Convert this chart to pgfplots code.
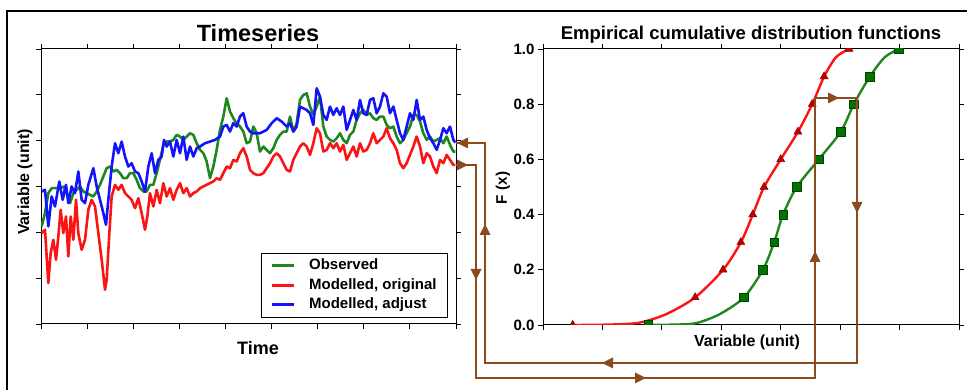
\documentclass[border=0pt]{standalone}
\usepackage{pgfplots}
\pgfplotsset{compat=1.18}
\usepackage{fontspec}
\setmainfont{Liberation Sans}
\definecolor{obsgreen}{RGB}{30,135,30}
\definecolor{modred}{RGB}{250,20,20}
\definecolor{adjblue}{RGB}{20,20,250}
\definecolor{arrbrown}{RGB}{140,75,30}
\newcommand\arrhead[3]{\fill[arrbrown,shift={(#1,#2)},rotate=#3] (6,0)--(-5,5.5)--(-5,-5.5)--cycle;}
\begin{document}
\begin{tikzpicture}[x=1pt,y=1pt]
\pgfplotsset{every axis/.append style={scale only axis, axis line style={line width=1pt}, tick style={line width=0.8pt,black}, major tick length=5pt, tick align=outside, tick pos=both}}
% ---------------- Timeseries ----------------
\begin{axis}[at={(41pt,66pt)}, anchor=south west, width=415pt, height=275pt,
  xmin=123, xmax=1368, ymin=147, ymax=973, y dir=reverse,
  xtick={123,261.33,399.67,538,676.33,814.67,953,1091.33,1229.67,1368},
  ytick={147,284.67,422.33,560,697.67,835.33,973},
  xticklabels={}, yticklabels={},
  legend cell align=left,
  legend image code/.code={\draw[#1,line width=2.6pt] (0pt,0pt) -- (22pt,0pt);},
  legend style={at={(0.981,0.258)}, anchor=north east, draw=black, line width=1pt,
    font=\fontsize{15}{17}\selectfont\bfseries, row sep=1pt, column sep=12pt, inner xsep=9pt, inner ysep=3pt,
    nodes={text height=11pt, text depth=3.5pt, inner sep=2pt}},
  every axis plot/.append style={line width=2.6pt, line join=round}]
\addplot[obsgreen, no marks] coordinates {(125,680)(135,640)(145,580)(155,565)(170,565)(180,565)(190,560)(200,580)(210,610)(220,580)(230,570)(240,560)(250,575)(260,580)(270,585)(280,590)(290,575)(300,555)(310,530)(320,505)(330,500)(340,515)(350,510)(360,520)(370,535)(380,535)(390,520)(400,520)(410,540)(420,565)(430,575)(440,575)(450,555)(460,555)(470,520)(480,480)(490,435)(500,425)(510,425)(520,420)(530,405)(540,410)(550,420)(560,410)(570,400)(580,405)(590,430)(600,450)(610,460)(620,485)(630,535)(640,500)(650,450)(660,390)(670,350)(680,295)(690,335)(700,355)(710,370)(720,380)(730,395)(740,430)(750,425)(760,380)(770,400)(780,455)(790,440)(800,450)(810,460)(820,445)(830,420)(840,405)(850,395)(860,395)(870,350)(880,395)(890,370)(900,300)(910,285)(920,280)(925,300)(930,320)(940,345)(950,320)(960,290)(970,380)(980,410)(990,420)(1000,425)(1010,415)(1020,400)(1030,420)(1040,430)(1050,405)(1060,395)(1070,360)(1080,340)(1090,330)(1100,345)(1110,340)(1120,355)(1130,360)(1140,350)(1150,350)(1160,375)(1170,385)(1180,380)(1190,410)(1200,430)(1210,420)(1220,400)(1230,380)(1240,345)(1250,345)(1260,365)(1270,400)(1280,420)(1290,410)(1300,425)(1310,420)(1320,415)(1330,430)(1340,410)(1350,435)(1360,455)(1366,455)};
\addlegendentry{Observed}
\addplot[modred, no marks] coordinates {(125,700)(135,690)(145,850)(152,760)(160,720)(168,780)(175,710)(182,630)(190,700)(198,650)(205,770)(212,650)(220,720)(228,600)(235,700)(245,750)(255,720)(265,630)(275,600)(285,620)(295,700)(305,780)(315,870)(320,840)(328,700)(335,590)(345,555)(355,570)(365,555)(375,580)(385,590)(395,600)(405,625)(415,595)(425,640)(435,690)(442,650)(450,580)(460,620)(470,570)(480,610)(490,550)(500,590)(510,565)(520,600)(530,570)(540,550)(550,580)(560,565)(570,590)(580,580)(590,575)(600,565)(610,560)(620,555)(630,550)(640,545)(650,535)(660,540)(670,520)(680,500)(690,505)(700,480)(710,485)(720,460)(730,445)(740,470)(750,510)(760,520)(770,525)(780,525)(790,520)(800,505)(810,490)(820,470)(830,460)(840,470)(850,490)(860,510)(870,515)(880,480)(890,460)(900,440)(910,430)(920,440)(930,465)(940,430)(950,385)(960,400)(970,455)(980,450)(990,430)(1000,445)(1010,430)(1020,455)(1030,435)(1040,480)(1050,460)(1060,440)(1070,470)(1080,430)(1090,455)(1100,450)(1110,430)(1120,400)(1130,430)(1140,420)(1150,410)(1160,385)(1170,415)(1180,430)(1190,450)(1200,490)(1210,505)(1220,490)(1230,465)(1240,440)(1250,410)(1260,440)(1270,490)(1280,460)(1290,470)(1300,500)(1310,520)(1320,480)(1330,490)(1340,465)(1350,480)(1360,495)(1366,495)};
\addlegendentry{Modelled, original}
\addplot[adjblue, no marks] coordinates {(125,575)(135,570)(145,680)(155,590)(165,620)(178,545)(188,600)(198,555)(205,610)(215,560)(225,580)(235,515)(245,600)(255,610)(265,555)(280,505)(290,560)(300,600)(310,640)(318,675)(325,600)(335,500)(345,430)(355,460)(365,425)(375,470)(385,500)(395,490)(405,515)(415,520)(425,545)(435,575)(445,500)(455,460)(465,520)(475,480)(485,470)(492,420)(500,440)(510,425)(520,470)(530,420)(540,460)(550,410)(560,480)(570,440)(580,470)(590,445)(600,440)(615,430)(630,425)(645,420)(660,410)(670,380)(680,375)(690,395)(700,370)(710,380)(720,350)(730,340)(740,380)(750,395)(760,400)(780,400)(800,390)(815,370)(830,355)(845,365)(860,380)(870,370)(880,395)(890,380)(900,320)(910,325)(920,330)(930,340)(940,375)(950,265)(960,290)(970,345)(980,360)(990,320)(1000,345)(1010,325)(1020,345)(1030,320)(1040,390)(1050,360)(1060,330)(1070,360)(1080,300)(1090,340)(1100,345)(1110,300)(1120,295)(1130,340)(1140,320)(1150,280)(1160,290)(1170,340)(1180,320)(1190,360)(1200,400)(1210,420)(1220,380)(1230,340)(1240,360)(1250,300)(1260,360)(1270,350)(1280,390)(1290,415)(1300,430)(1310,450)(1320,420)(1330,385)(1340,400)(1350,380)(1360,420)(1366,428)};
\addlegendentry{Modelled, adjust}
\end{axis}
% ---------------- ECDF ----------------
\begin{axis}[at={(543pt,65pt)}, anchor=south west, width=416pt, height=276pt,
  xmin=0, xmax=7, ymin=0, ymax=1,
  xtick={0,1,2,3,4,5,6,7}, xticklabels={},
  ytick={0,0.2,0.4,0.6,0.8,1}, yticklabel pos=left,
  yticklabel={\pgfmathprintnumber[fixed,fixed zerofill,precision=1,assume math mode=true]{\tick}},
  yticklabel style={font=\bfseries\fontsize{15}{18}\selectfont},
  clip marker paths=true]
\addplot[modred, line width=2.4pt, smooth, no marks] coordinates {(0.5,0)(1.0,0.001)(1.5,0.005)(1.75,0.015)(2.1,0.042)(2.56,0.1)(3.03,0.2)(3.33,0.3)(3.53,0.4)(3.72,0.5)(4.0,0.6)(4.29,0.7)(4.53,0.8)(4.73,0.9)(4.93,0.97)(5.15,1.0)};
\addplot[obsgreen, line width=2.4pt, smooth, no marks] coordinates {(1.77,0)(2.3,0.002)(2.6,0.008)(2.98,0.04)(3.38,0.1)(3.70,0.2)(3.89,0.3)(4.04,0.4)(4.27,0.5)(4.64,0.6)(5.01,0.7)(5.23,0.8)(5.50,0.9)(5.75,0.97)(5.99,1.0)};
\addplot[only marks, mark=triangle*, mark size=4.6pt, mark options={fill=red!75!black, draw=red!55!black, line width=0.5pt}] coordinates {(0.5,0)(2.56,0.1)(3.03,0.2)(3.33,0.3)(3.53,0.4)(3.72,0.5)(4.0,0.6)(4.29,0.7)(4.53,0.8)(4.73,0.9)(5.15,1.0)};
\addplot[only marks, mark=square*, mark size=4.3pt, mark options={fill=green!45!black, draw=green!25!black, line width=0.5pt}] coordinates {(1.77,0)(3.38,0.1)(3.70,0.2)(3.89,0.3)(4.04,0.4)(4.27,0.5)(4.64,0.6)(5.01,0.7)(5.23,0.8)(5.50,0.9)(5.99,1.0)};
\end{axis}
% ---------------- texts ----------------
\node[font=\bfseries\fontsize{23.5}{28}\selectfont] at (258,357) {Timeseries};
\node[font=\bfseries\fontsize{18.5}{22}\selectfont] at (751,355) {Empirical cumulative distribution functions};
\node[font=\bfseries\fontsize{18}{21}\selectfont] at (258,42) {Time};
\node[font=\bfseries\fontsize{16}{19}\selectfont] at (747,48) {Variable (unit)};
\node[font=\bfseries\fontsize{16}{19}\selectfont, rotate=90] at (25,208) {Variable (unit)};
\node[font=\bfseries\fontsize{15.3}{18}\selectfont, rotate=90] at (503,202) {F (x)};
% ---------------- quantile-mapping arrows ----------------
\draw[arrbrown, line width=1.4pt] (857,292) -- (857,27) -- (485,27) -- (485,247) -- (456,247);
\draw[arrbrown, line width=1.4pt] (456,225) -- (476,225) -- (476,12) -- (815,12) -- (815,292) -- (857,292);
\arrhead{857}{183}{-90}
\arrhead{608}{27}{180}
\arrhead{485}{160}{90}
\arrhead{463}{247}{180}
\arrhead{462}{225}{0}
\arrhead{476}{116}{-90}
\arrhead{640}{12}{0}
\arrhead{815}{133}{90}
\arrhead{833}{292}{0}
% ---------------- frame ----------------
\draw[line width=1.5pt] (7,379) rectangle (1000,-20);
\pgfresetboundingbox
\useasboundingbox (0,0) rectangle (967,390);
\end{tikzpicture}
\end{document}
